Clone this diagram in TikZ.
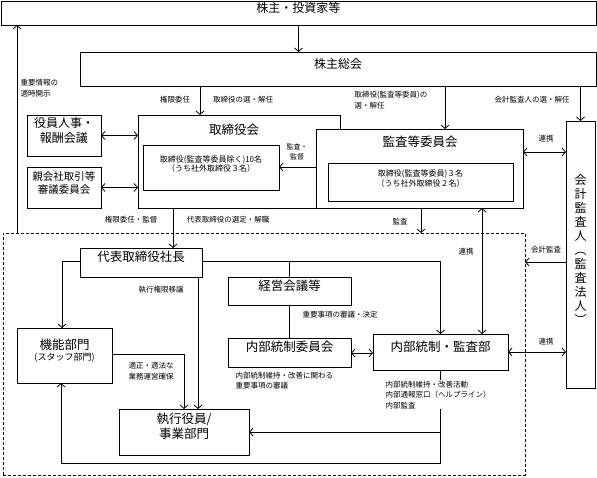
\documentclass[tikz,border=0pt]{standalone}
\usepackage{fontspec}
\setmainfont{Noto Sans CJK JP}
\usetikzlibrary{arrows.meta,fit}
\tikzset{
 ln/.style={line width=0.8pt},
 arr/.style={ln,-{Straight Barb[length=3.5pt,width=8pt]}},
 darr/.style={ln,{Straight Barb[length=3.5pt,width=8pt]}-{Straight Barb[length=3.5pt,width=8pt]}},
 box/.style={draw,line width=0.8pt,fill=white,inner sep=0pt,outer sep=0pt,align=center},
 big/.style={font=\fontsize{12}{15}\selectfont},
 mid/.style={font=\fontsize{10.5}{13}\selectfont},
 inn/.style={font=\fontsize{8}{9.5}\selectfont},
 lbl/.style={font=\fontsize{7.5}{10.5}\selectfont, inner sep=0.5pt, align=center},
 lbll/.style={font=\fontsize{7.5}{10.5}\selectfont, inner sep=0.5pt, align=left},
 ttl/.style={font=\fontsize{12.5}{15}\selectfont, inner sep=0pt},
}
\begin{document}
\begin{tikzpicture}[x=1pt,y=-1pt]
\useasboundingbox (0,0) rectangle (597,478);
% top level
\node[box,big,fit={(1,1)(596,25)}] (top) {株主・投資家等};
\node[box,big,fit={(80,52)(596,86)}] (soukai) {株主総会};
\draw[arr] (top.south) -- (top.south |- soukai.north);
% dashed execution area
\node[draw,line width=0.8pt,dash pattern=on 3pt off 2pt,inner sep=0pt,outer sep=0pt,fit={(3,233)(525,475)}] (exec) {};
\draw[arr] (exec.north -| 17,0) -- (top.south -| 17,0);
\node[lbll,anchor=north west] (jyoho) at (20,79) {重要情報の\\適時開示};
% auditor
\node[box,big,fit={(566,121)(595,388)},font=\fontsize{12}{14}\selectfont] (kaikei) {会\\計\\監\\査\\人\\︵\\監\\査\\法\\人\\︶};
% board
\node[box,fit={(138,115)(340,208)}] (tori) {};
\node[ttl] (toriT) at (234,130) {取締役会};
\node[box,inn,fit={(143,145)(279,190)}] (toriin) {取締役(監査等委員除く)10名\\（うち社外取締役３名）};
\node[box,fit={(316,129)(523,208)}] (kansa) {};
\node[ttl] (kansaT) at (420,142) {監査等委員会};
\node[box,inn,fit={(328,163)(513,201)}] (kansain) {取締役(監査等委員)３名\\（うち社外取締役２名）};
\node[box,font=\fontsize{12}{15}\selectfont,fit={(27,115)(101,156)}] (yakuin) {役員人事・\\報酬会議};
\node[box,font=\fontsize{10.5}{13}\selectfont,fit={(27,167)(101,208)}] (oya) {親会社取引等\\審議委員会};
\draw[darr] (yakuin.east) -- (yakuin.east -| tori.west);
\draw[darr] (oya.east) -- (oya.east -| tori.west);
% shareholder meeting arrows
\node[lbl] (l1) at (175,100) {権限委任};
\node[lbl] (l2) at (243,100) {取締役の選・解任};
\draw[arr] (soukai.south -| 200,0) -- (tori.north -| 200,0);
\node[lbll,anchor=west] (l3) at (354,100) {取締役(監査等委員)の\\選・解任};
\draw[arr] (soukai.south -| 445,0) -- (kansa.north -| 445,0);
\node[lbl] (l4) at (532,100) {会計監査人の選・解任};
\draw[arr] (soukai.south -| 580.5,0) -- (kaikei.north -| 580.5,0);
% board internal
\draw[arr] (kansa.west |- 0,167) -- (toriin.east |- 0,167);
\node[lbl,font=\fontsize{7}{9.5}\selectfont] (l5) at (297,152) {監査・\\監督};
\draw[darr] (kansa.east |- 0,152) -- (kaikei.west |- 0,152);
\node[lbl] (l6) at (546,139) {連携};
% execution boxes
\node[box,ttl,fit={(80,248)(202,277)}] (daihyo) {代表取締役社長};
\node[box,fit={(17,328)(112,383)}] (kino) {{\fontsize{12.5}{15}\selectfont 機能部門}\\[-1pt]{\fontsize{9}{10}\selectfont (スタッフ部門)}};
\node[box,ttl,fit={(228,277)(351,305)}] (keiei) {経営会議等};
\node[box,ttl,fit={(228,338)(351,367)}] (naiinkai) {内部統制委員会};
\node[box,ttl,fit={(373,334)(508,370)}] (naibu) {内部統制・監査部};
\node[box,fit={(119,409)(249,455)},font=\fontsize{12.5}{15}\selectfont] (shikko) {執行役員/\\事業部門};
% board to execution
\node[lbl] (l7) at (131,220) {権限委任・監督};
\node[lbl] (l8) at (228,220) {代表取締役の選定・解職};
\draw[arr] (tori.south -| 173,0) -- (daihyo.north -| 173,0);
\node[lbl] (l9) at (400,222) {監査};
\draw[arr] (kansa.south -| 421,0) -- (exec.north -| 421,0);
\draw[darr] (kansa.south -| 482,0) -- (naibu.north -| 482,0);
\node[lbl] (l10) at (466,252) {連携};
\draw[arr] (kaikei.west |- 0,262) -- (exec.east |- 0,262);
\node[lbl] (l11) at (546,250) {会計監査};
\draw[darr] (naibu.east |- 0,352) -- (kaikei.west |- 0,352);
\node[lbl] (l12) at (546,342) {連携};
% execution connectors
\draw[arr] (daihyo.west |- 0,261) -| (kino.north -| 62,0);
\draw[arr] (daihyo.east |- 0,261) -| (naibu.north);
\draw[ln] (keiei.north |- 0,261) -- (keiei.north);
\draw[ln] (keiei.south) -- (naiinkai.north);
\node[lbl] (l13) at (340,315) {重要事項の審議・決定};
\draw[arr] (daihyo.south -| 198,0) -- (shikko.north -| 198,0);
\node[lbl] (l14) at (161,290) {執行権限移譲};
\draw[arr] (kino.east |- 0,354) -| (shikko.north -| 184,0);
\node[lbl] (l15) at (151,371) {適正・適法な\\業務運営確保};
\draw[darr] (naiinkai.east |- 0,353) -- (naibu.west |- 0,353);
\node[lbll,anchor=north west] (l16) at (235,371) {内部統制維持・改善に関わる\\重要事項の審議};
\draw[arr] (naibu.south) -- (naibu.south |- 0,463) -| (kino.south -| 61,0);
\draw[arr] (naibu.south |- shikko.east) -- (shikko.east);
\node[lbll,anchor=north west,fill=white] (l17) at (385,380) {内部統制維持・改善活動\\内部通報窓口（ヘルプライン）\\内部監査};
\end{tikzpicture}
\end{document}
